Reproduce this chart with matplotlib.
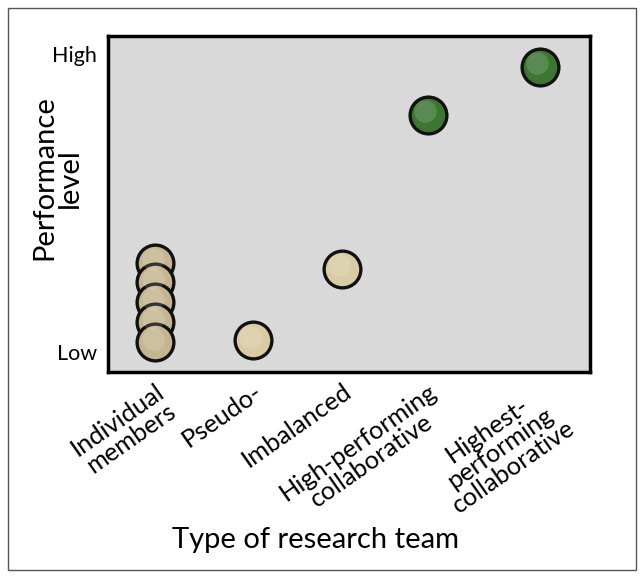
#!/usr/bin/env python3
"""Performance level by type of research team (schematic dot chart)."""

import matplotlib.pyplot as plt
from matplotlib.patches import Rectangle

plt.rcParams["font.family"] = ["Lato", "DejaVu Sans"]

# categories along x and where each one sits on the axis
categories = [
    "Individual\nmembers",
    "Pseudo-",
    "Imbalanced",
    "High-performing\ncollaborative",
    "Highest-\nperforming\ncollaborative",
]
cat_pos = [0.49, 1.5, 2.43, 3.32, 4.48]

# performance values (Low = 0, High = 10)
individual_y = [2.99, 2.35, 1.68, 1.01, 0.34]
team_x = [1.5, 2.43]
team_y = [0.40, 2.79]
collab_x = [3.32, 4.48]
collab_y = [7.95, 9.56]

y_ticks = [0, 10]
y_ticklabels = ["Low", "High"]

TAN_DARK = "#c5b590"
TAN_LIGHT = "#d9cca4"
GREEN = "#3d7633"


def dots(ax, x, y, color):
    # one scatter per dot so later dots overlap earlier ones
    for xi, yi in zip(x, y):
        ax.scatter(xi, yi, s=700, c=color, edgecolors="#111111",
                   linewidths=2.4, zorder=3)
        ax.scatter(xi - 0.03, yi + 0.12, s=260, c="white", alpha=0.15,
                   linewidths=0, zorder=4)


def main():
    fig = plt.figure(figsize=(6.44, 5.78), dpi=100)
    fig.patches.append(Rectangle((0.012, 0.014), 0.976, 0.972,
                                 transform=fig.transFigure, fill=False,
                                 edgecolor="#555555", linewidth=1.0))
    ax = fig.add_axes([0.168, 0.356, 0.748, 0.582])
    ax.set_facecolor("#d9d9d9")

    dots(ax, [cat_pos[0]] * len(individual_y), individual_y, TAN_DARK)
    dots(ax, team_x, team_y, TAN_LIGHT)
    dots(ax, collab_x, collab_y, GREEN)

    ax.set_xlim(0, 5)
    ax.set_ylim(-0.67, 10.6)

    ax.set_yticks(y_ticks)
    ax.set_yticklabels(y_ticklabels, fontsize=15.5)
    ax.set_xticks(cat_pos)
    ax.set_xticklabels(categories, fontsize=18.3, rotation=35,
                       ha="right", va="top", rotation_mode="anchor",
                       ma="center", linespacing=0.97)
    ax.tick_params(length=0)
    ax.tick_params(axis="y", pad=8)
    ax.tick_params(axis="x", pad=5)

    for spine in ax.spines.values():
        spine.set_linewidth(2.5)

    fig.text(57 / 644, 1 - 178 / 578, "Performance\nlevel", fontsize=21,
             rotation=90, ha="center", va="center", linespacing=1.0)
    fig.text(316 / 644, 1 - 540 / 578, "Type of research team",
             fontsize=21, ha="center", va="center")

    fig.savefig("out.png", dpi=100)
    plt.close(fig)


if __name__ == "__main__":
    main()
